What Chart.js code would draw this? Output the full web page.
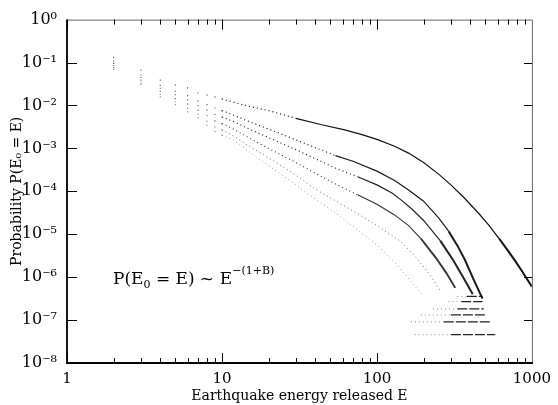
<!DOCTYPE html>
<html><head><meta charset="utf-8">
<script src="https://cdn.jsdelivr.net/npm/chart.js@4/dist/chart.umd.min.js"></script>
<style>html,body{margin:0;padding:0;background:#fff}#wrap{width:558px;height:405px;position:relative}</style>
</head><body><div id="wrap"><canvas id="c"></canvas></div>
<script>
// ---- data (log10 of probability) ----
const lowEnergies = [2,3,4,5,6,7,8,9,10];
const lowLogA = [-0.88,-1.18,-1.41,-1.52,-1.59,-1.71,-1.76,-1.80,-1.85];
const lowLogB = [-0.97,-1.29,-1.53,-1.67,-1.77,-1.90,-1.98,-2.06,-2.12];
const lowLogC = [-1.02,-1.35,-1.60,-1.75,-1.87,-2.00,-2.11,-2.21,-2.27];
const lowLogD = [-1.07,-1.41,-1.67,-1.84,-1.97,-2.11,-2.24,-2.36,-2.42];
const lowLogE = [-1.12,-1.47,-1.74,-1.92,-2.07,-2.21,-2.37,-2.50,-2.57];
const lowLogF = [-1.16,-1.51,-1.80,-1.98,-2.15,-2.29,-2.46,-2.61,-2.69];

const energyA = [10,12,15,20,30,44,62,80,100,130,160,200,250,300,365,450,530,614,700,780,870,1000];
const logA    = [-1.85,-1.93,-2.02,-2.12,-2.30,-2.45,-2.57,-2.68,-2.79,-2.95,-3.11,-3.33,-3.60,-3.85,-4.15,-4.50,-4.80,-5.10,-5.38,-5.62,-5.88,-6.22];
const energyB = [10,12,15,20,30,46,54,70,100,130,160,200,250,290,330,370,420,480];
const logB    = [-2.12,-2.23,-2.38,-2.55,-2.80,-3.07,-3.17,-3.30,-3.53,-3.75,-3.97,-4.23,-4.62,-4.93,-5.26,-5.60,-6.05,-6.50];
const energyC = [10,12,15,20,30,40,54,75,100,125,143,170,200,256,310,360,415];
const logC    = [-2.27,-2.38,-2.55,-2.75,-3.03,-3.24,-3.46,-3.66,-3.85,-4.04,-4.20,-4.43,-4.68,-5.15,-5.60,-6.00,-6.40];
const energyD = [10,12,15,20,30,40,54,75,100,130,160,192,240,280,320];
const logD    = [-2.42,-2.56,-2.76,-3.00,-3.33,-3.58,-3.83,-4.08,-4.30,-4.55,-4.80,-5.10,-5.55,-5.90,-6.25];
const energyE = [10,12,15,20,30,40,54,75,100,140,180,220,260];
const logE    = [-2.57,-2.72,-2.95,-3.22,-3.62,-3.95,-4.22,-4.52,-4.80,-5.15,-5.55,-5.95,-6.35];
const energyF = [10,12,15,20,30,40,54,75,100,130,166,200];
const logF    = [-2.69,-2.82,-3.08,-3.40,-3.85,-4.18,-4.50,-4.90,-5.25,-5.65,-6.10,-6.45];

// horizontal low-count streaks at the bottom of the tails
const streakLog       = [-6.45,-6.57,-6.74,-6.88,-7.04,-7.34];
const streakFrom      = [330,290,230,192,166,175];
const streakSolidFrom = [380,350,330,300,270,300];
const streakTo        = [480,480,490,500,550,580];

const xTickValues = [1,10,100,1000];
const xTickLabels = ['1','10','100','1000'];
const yTickValues = [1,1e-1,1e-2,1e-3,1e-4,1e-5,1e-6,1e-7,1e-8];
const yTickLabels = ['10⁰','10⁻¹','10⁻²','10⁻³','10⁻⁴','10⁻⁵','10⁻⁶','10⁻⁷','10⁻⁸'];

// ---- build datasets ----
const pts = (xs, ls) => xs.map((e,i)=>({x:e, y:Math.pow(10, ls[i])}));
const datasets = [];
const lows = [lowLogA,lowLogB,lowLogC,lowLogD,lowLogE,lowLogF];
lows.forEach((l,i)=>datasets.push({
  data: pts(lowEnergies,l), showLine:false, pointStyle:'rect', pointRadius:0.8,
  pointBackgroundColor: i<4?'#555':'#888', pointBorderWidth:0
}));
// [energies, logs, solid from E, colour, width, thick tail from E]
const curves = [
  [energyA, logA, 30, '#111', 1.2, 614],
  [energyB, logB, 50, '#1a1a1a', 1.2, 290],
  [energyC, logC, 60, '#222', 1.2, 256],
  [energyD, logD, 75, '#333', 1.1, 192],
  [energyE, logE, 1e9, '#666', 1.0, 1e9],
  [energyF, logF, 1e9, '#999', 1.0, 1e9]
];
curves.forEach(([xs, ls, solidFrom, col, w, thickFrom])=>datasets.push({
  data: pts(xs, ls), showLine:true, pointRadius:0, borderColor:col, borderWidth:w,
  segment:{
    borderDash: ctx => ctx.p0.parsed.x < solidFrom ? [1,3] : [],
    borderWidth: ctx => ctx.p0.parsed.x >= thickFrom ? w+0.8 : w
  }
}));
streakLog.forEach((l,i)=>{
  datasets.push({data:[{x:streakFrom[i],y:10**l},{x:streakSolidFrom[i],y:10**l}], showLine:true, pointRadius:0, borderColor:'#888', borderWidth:1, borderDash:[1,3]});
  datasets.push({data:[{x:streakSolidFrom[i],y:10**l},{x:streakTo[i],y:10**l}], showLine:true, pointRadius:0, borderColor:'#222', borderWidth:1.2, borderDash:[10,2]});
});

const serif = '"DejaVu Serif", "Liberation Serif", serif';

const frameTicks = {
  id:'frameTicks',
  afterDatasetsDraw(chart){
    const {ctx, chartArea:a, scales:{x,y}} = chart;
    ctx.save();
    ctx.lineWidth=1; ctx.strokeStyle='#666';
    ctx.beginPath(); ctx.moveTo(a.left,a.top+0.5); ctx.lineTo(a.right+0.5,a.top+0.5); ctx.lineTo(a.right+0.5,a.bottom); ctx.stroke();
    ctx.lineWidth=1.8; ctx.strokeStyle='#000';
    ctx.beginPath(); ctx.moveTo(a.left,a.top); ctx.lineTo(a.left,a.bottom); ctx.lineTo(a.right+1,a.bottom); ctx.stroke();
    ctx.lineWidth=1; ctx.beginPath();
    xTickValues.slice(0,-1).forEach(d=>{
      for(let m=1;m<10;m++){
        const px=Math.round(x.getPixelForValue(d*m))+0.5, L=m===1?10:5;
        ctx.moveTo(px,a.bottom); ctx.lineTo(px,a.bottom-L);
        ctx.moveTo(px,a.top); ctx.lineTo(px,a.top+L);
      }
    });
    yTickValues.slice(1,-1).forEach(v=>{
      const py=Math.round(y.getPixelForValue(v))+0.5;
      ctx.moveTo(a.left,py); ctx.lineTo(a.left+10,py);
      ctx.moveTo(a.right,py); ctx.lineTo(a.right-8,py);
    });
    ctx.stroke();
    // annotation
    ctx.fillStyle='#000'; ctx.textBaseline='alphabetic';
    let tx=113; const base=284;
    const put=(s,size,dy)=>{ctx.font=size+'px '+serif; ctx.fillText(s,tx,base+dy); tx+=ctx.measureText(s).width;};
    put('P(E',17,0); put('0',11,4); put(' = E)',17,0); tx+=5; put('~',17,0); tx+=6; put('E',17,0); put('−(1+B)',11,-10);
    ctx.restore();
  }
};

new Chart(document.getElementById('c'), {
  type:'scatter',
  data:{datasets},
  options:{
    responsive:true, maintainAspectRatio:false, animation:false,
    layout:{padding:{top:17,right:18,left:0,bottom:0}},
    plugins:{legend:{display:false}, tooltip:{enabled:false}},
    scales:{
      x:{type:'logarithmic', min:1, max:1000,
        grid:{display:false, drawTicks:false, tickLength:0}, border:{display:false},
        afterBuildTicks:s=>{s.ticks=xTickValues.map(v=>({value:v}));},
        afterFit:s=>{s.height=42;},
        ticks:{autoSkip:false, maxRotation:0, padding:7, color:'#000', font:{family:serif,size:15},
          callback:(v,i)=>xTickLabels[i]},
        title:{display:true, text:'Earthquake energy released E', color:'#000', font:{family:serif,size:14}, padding:{top:0,bottom:0}}
      },
      y:{type:'logarithmic', min:1e-8, max:1,
        grid:{display:false, drawTicks:false, tickLength:0}, border:{display:false},
        afterBuildTicks:s=>{s.ticks=yTickValues.map(v=>({value:v}));},
        afterFit:s=>{s.width=67;},
        ticks:{autoSkip:false, padding:10, color:'#000', font:{family:serif,size:16},
          callback:(v,i)=>yTickLabels[i]},
        title:{display:true, text:'Probability P(E₀ = E)', color:'#000', font:{family:serif,size:14}, padding:{top:9,bottom:9}}
      }
    }
  },
  plugins:[frameTicks]
});
</script></body></html>
